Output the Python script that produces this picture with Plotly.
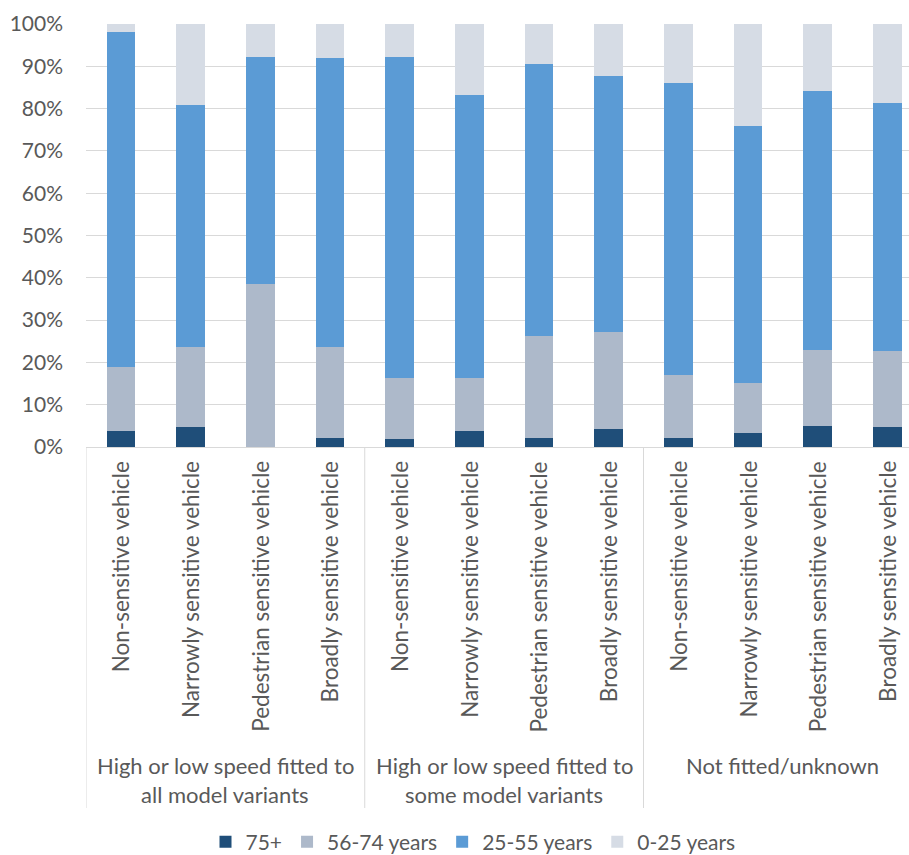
import plotly.graph_objects as go

categories = ["Non-sensitive vehicle", "Narrowly sensitive vehicle",
              "Pedestrian sensitive vehicle", "Broadly sensitive vehicle"] * 3
groups = ["High or low speed fitted to|all model variants",
          "High or low speed fitted to|some model variants",
          "Not fitted/unknown"]

s_75plus = [3.7, 4.7, 0.0, 2.2, 1.9, 3.9, 2.2, 4.3, 2.2, 3.4, 4.9, 4.7]
s_56_74 = [15.2, 19.0, 38.5, 21.5, 14.5, 12.5, 24.0, 22.8, 14.8, 11.8, 18.0, 17.9]
s_25_55 = [79.1, 57.1, 53.8, 68.3, 75.9, 66.7, 64.3, 60.6, 69.0, 60.7, 61.2, 58.8]
s_0_25 = [2.0, 19.2, 7.7, 8.0, 7.7, 16.9, 9.5, 12.3, 14.0, 24.1, 15.9, 18.6]

series = [("75+", s_75plus, "#1F4E79"),
          ("56-74 years", s_56_74, "#ADB9CA"),
          ("25-55 years", s_25_55, "#5B9BD5"),
          ("0-25 years", s_0_25, "#D6DCE5")]

FONT = "Lato"
GREY = "#595959"
LINE = "#D9D9D9"

xs = list(range(len(categories)))
fig = go.Figure()
for name, vals, col in series:
    fig.add_trace(go.Bar(x=xs, y=[v / 100 for v in vals], name=name,
                         marker=dict(color=col, line=dict(width=0)),
                         width=0.41))

W, HT = 909, 855
PLOT_TOP, PLOT_BOT = 24, 447
H = PLOT_BOT - PLOT_TOP


def py(pix):
    return (PLOT_BOT - pix) / H


annotations = []
for i, c in enumerate(categories):
    annotations.append(dict(x=i, y=py(459), xref="x", yref="paper", text=c,
                            textangle=-90, showarrow=False, xanchor="center",
                            yanchor="top", font=dict(family=FONT, size=22.5, color=GREY)))
for g, label in enumerate(groups):
    for k, line in enumerate(label.split("|")):
        annotations.append(dict(x=g * 4 + 1.5, y=py(765 + 30 * k), xref="x", yref="paper",
                                text=line, showarrow=False, xanchor="center",
                                yanchor="middle", font=dict(family=FONT, size=22, color=GREY)))

shapes = []
for b in [-0.5, 3.5, 7.5]:
    shapes.append(dict(type="line", xref="x", yref="paper", x0=b, x1=b,
                       y0=0, y1=py(808), line=dict(color=LINE, width=1)))

fig.update_layout(
    barmode="stack",
    width=W, height=HT,
    margin=dict(l=86, r=0, t=PLOT_TOP, b=HT - PLOT_BOT, autoexpand=False),
    paper_bgcolor="white", plot_bgcolor="white",
    font=dict(family=FONT, color=GREY),
    xaxis=dict(range=[-0.5, 11.31], showticklabels=False, showgrid=False,
               zeroline=False, showline=True, linecolor=LINE, linewidth=1,
               fixedrange=True),
    yaxis=dict(range=[0, 1], dtick=0.1, tickformat=".0%", showgrid=True,
               gridcolor=LINE, gridwidth=1, zeroline=False, showline=False,
               tickfont=dict(family=FONT, size=21, color=GREY),
               ticklabelstandoff=22, automargin=False),
    legend=dict(orientation="h", x=473 / W, xanchor="center", xref="container",
                y=(HT - 842) / HT, yref="container", yanchor="middle",
                font=dict(family=FONT, size=21, color=GREY),
                traceorder="normal", itemwidth=30),
    annotations=annotations,
    shapes=shapes,
    bargap=0.59,
)

fig.write_html("out.html")
